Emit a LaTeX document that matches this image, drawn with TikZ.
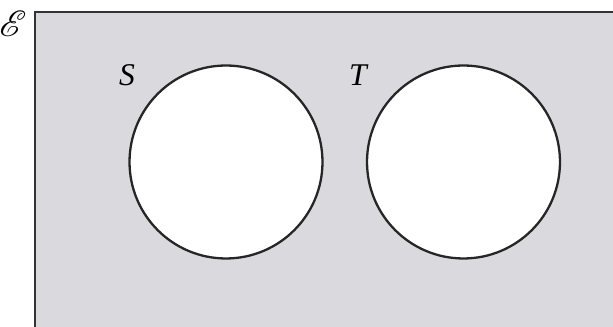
\documentclass[tikz,border=0pt]{standalone}
\usepackage{mathrsfs}
\usepackage{fontspec}
\newfontfamily\labelfont{Liberation Serif}
\usetikzlibrary{positioning}

\begin{document}
\begin{tikzpicture}[x=0.02cm, y=-0.02cm,
    setcircle/.style={circle, draw=black!85, line width=1.3pt, fill=white, minimum size=3.86cm, inner sep=0pt},
    setlabel/.style={font=\labelfont\fontsize{18}{18}\selectfont\itshape}]
            % 画布
            \useasboundingbox (0,0) rectangle (613,327);
            \clip (0,0) rectangle (613,327);
            \definecolor{univgrey}{RGB}{218,218,222}
            \draw[fill=univgrey, draw=black!80, line width=1.7pt] (35,12) rectangle (640,350);
            \node (E) at (13,24) {\fontsize{20}{20}\selectfont$\mathscr{E}$};

            % 集合
            \node[setcircle] (S) at (226,162) {};
            \node[setcircle] (T) at (463.5,162) {};

            % 标签
            \node[setlabel] (Slab) at (127,75) {S};
            \node[setlabel] (Tlab) at (358,75) {T};
        \end{tikzpicture}
\end{document}
